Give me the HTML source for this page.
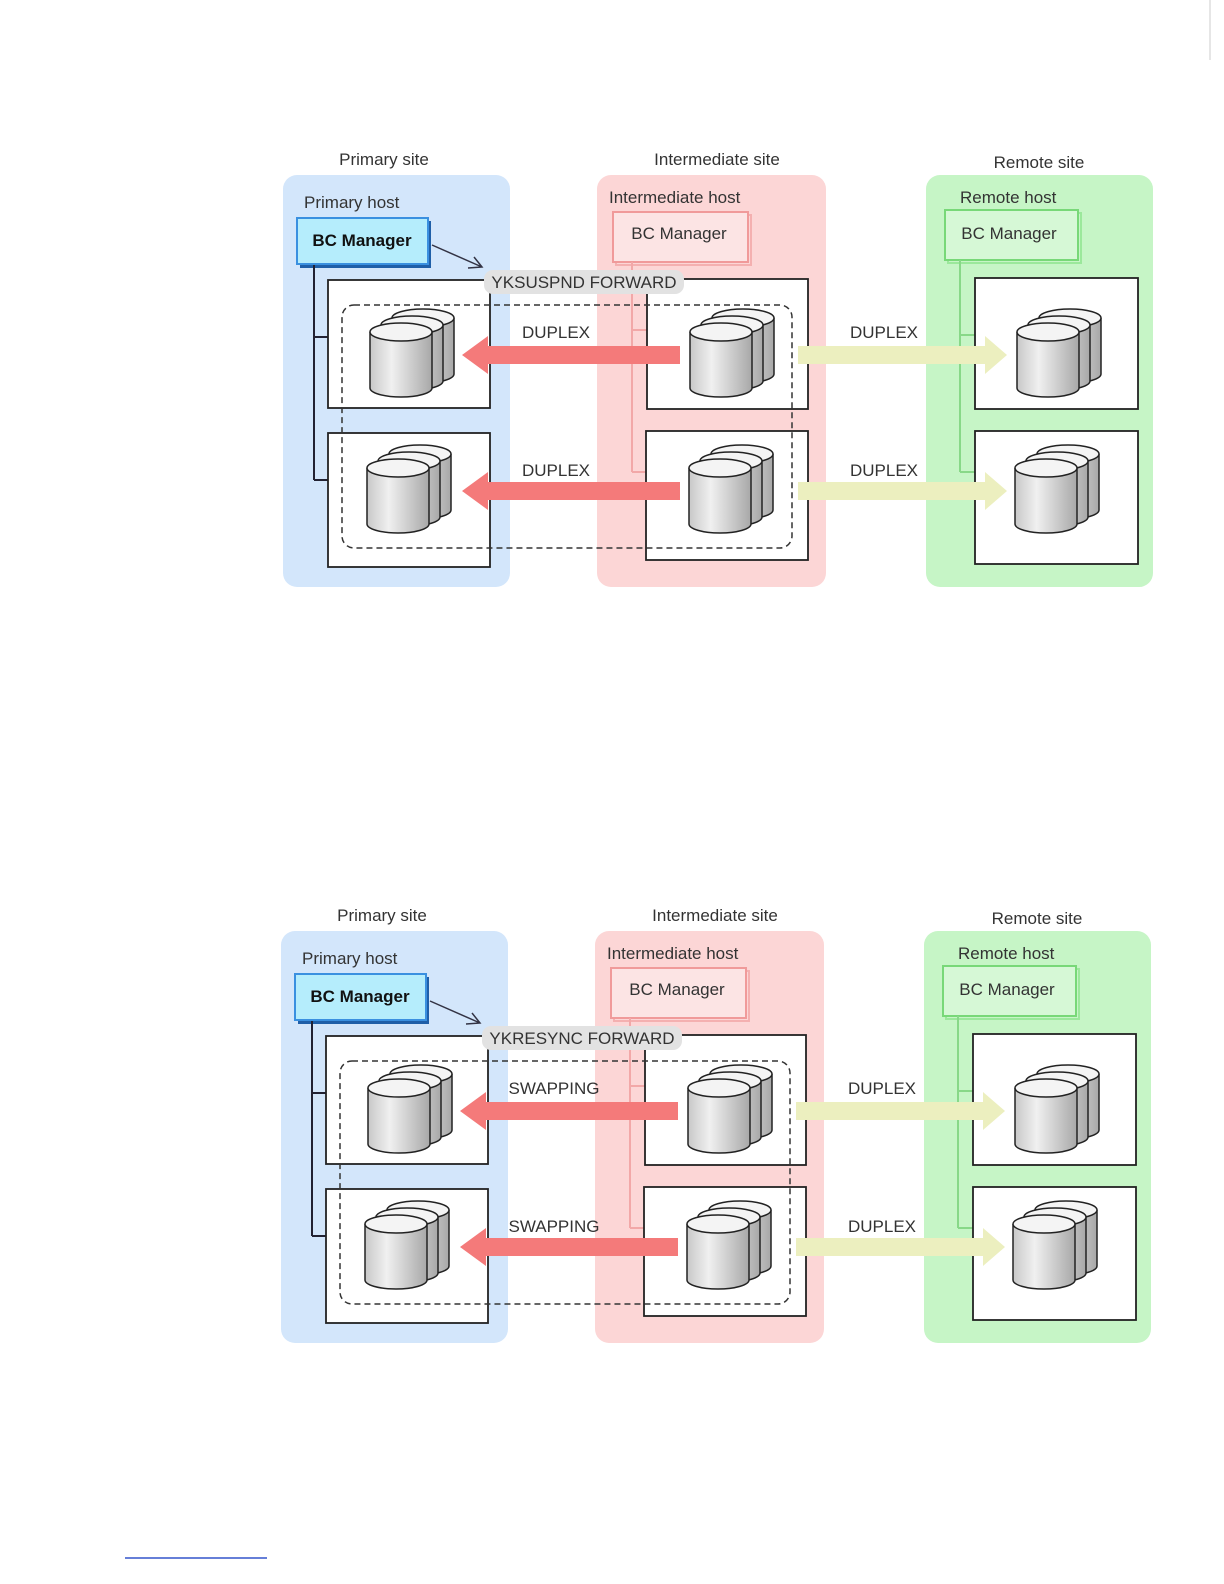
<!DOCTYPE html>
<html><head><meta charset="utf-8"><style>
html,body{margin:0;padding:0;background:#fff;overflow:hidden;width:1224px;height:1584px;}
svg{display:block;}
text{font-family:"Liberation Sans",Arial,sans-serif;font-size:17px;fill:#333;}
</style></head><body>
<svg width="1224" height="1584" viewBox="0 0 1224 1584" xmlns="http://www.w3.org/2000/svg">
<defs>
<linearGradient id="cg" x1="0" x2="1" y1="0" y2="0">
<stop offset="0" stop-color="#c8c8c8"/><stop offset="0.35" stop-color="#f0f0f0"/><stop offset="1" stop-color="#a8a8a8"/>
</linearGradient>
<g id="cyl1">
<path d="M0,10 L0,66 A31,9 0 0 0 62,66 L62,10" fill="url(#cg)" stroke="#222" stroke-width="1.5"/>
<ellipse cx="31" cy="10" rx="31" ry="9" fill="#f4f4f4" stroke="#222" stroke-width="1.5"/>
</g>
<g id="cyls">
<use href="#cyl1" x="22" y="-14"/>
<use href="#cyl1" x="11" y="-7"/>
<use href="#cyl1" x="0" y="0"/>
</g>
<g id="diag">
<rect x="283" y="175" width="227" height="412" rx="14" fill="#d3e6fb"/>
<rect x="597" y="175" width="229" height="412" rx="14" fill="#fcd6d6"/>
<rect x="926" y="175" width="227" height="412" rx="14" fill="#c6f5c6"/>
<text x="384" y="165" text-anchor="middle">Primary site</text>
<text x="717" y="165" text-anchor="middle">Intermediate site</text>
<text x="1039" y="168" text-anchor="middle">Remote site</text>
<text x="304" y="208">Primary host</text>
<text x="609" y="203">Intermediate host</text>
<text x="960" y="203">Remote host</text>
<rect x="300" y="221" width="131" height="47" fill="#1f5fa8"/>
<rect x="297" y="218" width="131" height="46" fill="#b5edfc" stroke="#3a90e0" stroke-width="2"/>
<text x="362" y="246" text-anchor="middle" style="font-weight:bold;fill:#111">BC Manager</text>
<rect x="616" y="215" width="135" height="50" fill="none" stroke="#f4b0b0" stroke-width="2"/>
<rect x="613" y="212" width="135" height="50" fill="#fce4e4" stroke="#f09a9a" stroke-width="2"/>
<text x="679" y="239" text-anchor="middle">BC Manager</text>
<rect x="948" y="213" width="133" height="50" fill="none" stroke="#9be89b" stroke-width="2"/>
<rect x="945" y="210" width="133" height="50" fill="#d6f8d6" stroke="#78d878" stroke-width="2"/>
<text x="1009" y="239" text-anchor="middle">BC Manager</text>
<path d="M314,265 V480 M314,337 H328 M314,480 H328" stroke="#223" stroke-width="2" fill="none"/>
<path d="M632,262 V472 M632,330 H647 M632,472 H647" stroke="#f2a8a8" stroke-width="2" fill="none"/>
<path d="M960,260 V472 M960,335 H975 M960,472 H975" stroke="#88d888" stroke-width="2" fill="none"/>
<g fill="#fff" stroke="#222" stroke-width="1.8">
<rect x="328" y="280" width="162" height="128"/>
<rect x="328" y="433" width="162" height="134"/>
<rect x="647" y="279" width="161" height="130"/>
<rect x="646" y="431" width="162" height="129"/>
<rect x="975" y="278" width="163" height="131"/>
<rect x="975" y="431" width="163" height="133"/>
</g>
<path d="M632,300 V400" stroke="#f2a8a8" stroke-width="1.5"/>
<rect x="342" y="305" width="450" height="243" rx="12" fill="none" stroke="#333" stroke-width="1.5" stroke-dasharray="6,4"/>
<use href="#cyls" x="370" y="322"/>
<use href="#cyls" x="367" y="458"/>
<use href="#cyls" x="690" y="322"/>
<use href="#cyls" x="689" y="458"/>
<use href="#cyls" x="1017" y="322"/>
<use href="#cyls" x="1015" y="458"/>
<g fill="#f47a7a">
<polygon points="680,346 488,346 488,336 462,355 488,374 488,364 680,364"/>
<polygon points="680,482 488,482 488,472 462,491 488,510 488,500 680,500"/>
</g>
<g fill="#ecefbf">
<polygon points="798,346 985,346 985,336 1007,355 985,374 985,364 798,364"/>
<polygon points="798,482 985,482 985,472 1007,491 985,510 985,500 798,500"/>
</g>
<text x="884" y="338" text-anchor="middle">DUPLEX</text>
<text x="884" y="476" text-anchor="middle">DUPLEX</text>
<path d="M432,245 L482,267 M468,268 L482,267 L474,257" stroke="#334" stroke-width="1.5" fill="none"/>
<rect x="484" y="270" width="200" height="24" rx="9" fill="#e2e2e2"/>
</g>
</defs>

<path d="M1210,0 V60" stroke="#ccc" stroke-width="1"/>

<use href="#diag"/>
<text x="556" y="338" text-anchor="middle">DUPLEX</text>
<text x="556" y="476" text-anchor="middle">DUPLEX</text>
<text x="584" y="288" text-anchor="middle">YKSUSPND FORWARD</text>

<g transform="translate(-2,756)">
<use href="#diag"/>
<text x="556" y="338" text-anchor="middle">SWAPPING</text>
<text x="556" y="476" text-anchor="middle">SWAPPING</text>
<text x="584" y="288" text-anchor="middle">YKRESYNC FORWARD</text>
</g>

<path d="M125,1558 H267" stroke="#3355cc" stroke-width="1.5"/>
</svg>
</body></html>
